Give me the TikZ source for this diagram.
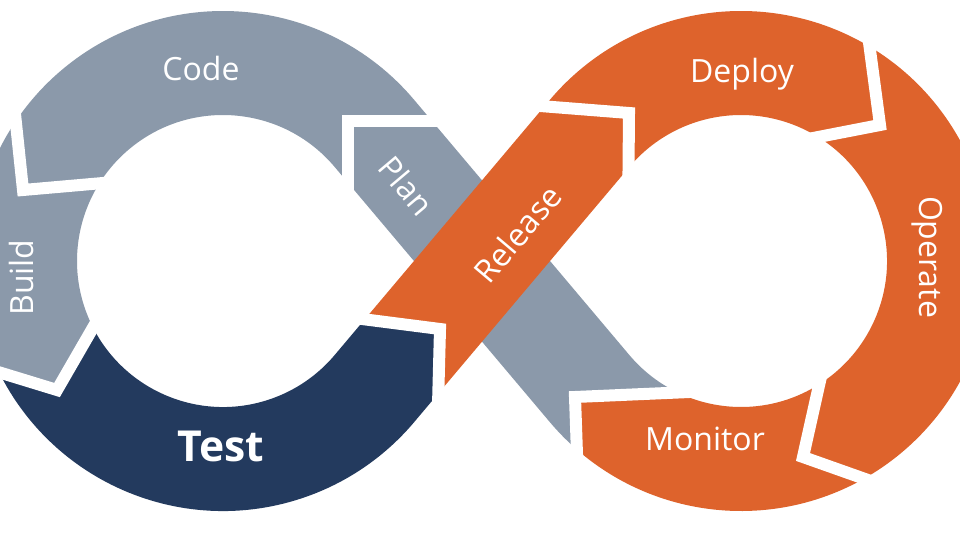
\documentclass[tikz,border=0pt]{standalone}
\usepackage{fontspec}
\setmainfont{Open Sans}
\usetikzlibrary{calc}

\definecolor{devgray}{RGB}{139,153,170}
\definecolor{devblue}{RGB}{35,58,94}
\definecolor{devorange}{RGB}{222,99,44}

\tikzset{
  band/.style={line width=78pt},
  gap/.style={draw=white, line width=9pt},
  stage/.style={text=white, inner sep=0pt, text depth=0pt, text height=17pt,
    font=\fontsize{24}{28}\selectfont},
}

% joint between two stages: name, x, y, arm left of the flow, arm right of the flow
\newcommand{\stagejoint}[5]{
  \coordinate (#1) at (#2,#3);
  \coordinate (#1-l) at ($(#1)+(#4:150)$);
  \coordinate (#1-r) at ($(#1)+(#5:150)$);
  \coordinate (#1-gl) at ($(#1)+(#4:120)$);
  \coordinate (#1-gr) at ($(#1)+(#5:120)$);
}

\begin{document}
\begin{tikzpicture}[x=0.75pt, y=0.75pt]
\path[use as bounding box, fill=white] (0,0) rectangle (960,540);

% loop centres and the ends of the straight parts
\coordinate (cl) at (223,279);
\coordinate (cr) at (741,279);
\coordinate (tlu) at ($(cl)+(40.14:198)$);
\coordinate (tld) at ($(cl)+(-40.14:198)$);
\coordinate (tru) at ($(cr)+(139.86:198)$);
\coordinate (trd) at ($(cr)+(-139.86:198)$);

\stagejoint{hplan}{348}{419}{-90}{0}
\stagejoint{hcode}{23}{350}{5}{96}
\stagejoint{hbuild}{57}{150}{60}{163}
\stagejoint{htest}{440}{211}{172.7}{268.5}
\stagejoint{hrelease}{629}{427}{175.5}{269.5}
\stagejoint{hdeploy}{880}{415}{97.6}{191}
\stagejoint{hoperate}{803}{83}{-19.5}{77.4}
\stagejoint{hmonitor}{575}{143}{272}{2.5}

% Plan (under Release)
\begin{scope}
  \clip (hmonitor-r) -- (hmonitor) -- (hmonitor-l) -- (hplan-l) -- ($(hplan)!12pt!(hplan-l)$) .. controls (hplan) .. ($(hplan)!12pt!(hplan-r)$) -- (hplan-r) -- cycle;
  \draw[band, devgray] ($(cr)+(-115:198)$) arc[start angle=-115, end angle=-139.86, radius=198] -- (tlu) arc[start angle=40.14, end angle=60, radius=198];
\end{scope}

% Code
\begin{scope}
  \clip (hplan-r) -- (hplan) -- (hplan-l) -- (cl) -- (hcode-l) -- ($(hcode)!8pt!(hcode-l)$) .. controls (hcode) .. ($(hcode)!8pt!(hcode-r)$) -- (hcode-r) -- ($(cl)+(125:420)$) -- ($(cl)+(55:420)$) -- cycle;
  \draw[band, devgray] ($(tlu)+(-49.86:80)$) -- (tlu) arc[start angle=40.14, end angle=175, radius=198];
\end{scope}

% Build
\begin{scope}
  \clip (hcode-r) -- (hcode) -- (hcode-l) -- (cl) -- (hbuild-l) -- ($(hbuild)!8pt!(hbuild-l)$) .. controls (hbuild) .. ($(hbuild)!8pt!(hbuild-r)$) -- (hbuild-r) -- ($(cl)+(190:420)$) -- cycle;
  \draw[band, devgray] ($(cl)+(140:198)$) arc[start angle=140, end angle=235, radius=198];
\end{scope}

% Test
\begin{scope}
  \clip (hbuild-r) -- (hbuild) -- (hbuild-l) -- (cl) -- (htest-l) -- ($(htest)!12pt!(htest-l)$) .. controls (htest) .. ($(htest)!12pt!(htest-r)$) -- (htest-r) -- ($(cl)+(300:420)$) -- ($(cl)+(240:420)$) -- cycle;
  \draw[band, devblue] ($(cl)+(200:198)$) arc[start angle=200, end angle=319.86, radius=198] -- ($(tld)+(49.86:130)$);
\end{scope}

% Release
\begin{scope}
  \clip (htest-r) -- (htest) -- (htest-l) -- (hrelease-l) -- ($(hrelease)!12pt!(hrelease-l)$) .. controls (hrelease) .. ($(hrelease)!12pt!(hrelease-r)$) -- (hrelease-r) -- cycle;
  \draw[band, devorange] (tld) -- (tru) arc[start angle=139.86, end angle=115, radius=198];
\end{scope}

% Deploy
\begin{scope}
  \clip (hrelease-r) -- (hrelease) -- (hrelease-l) -- ($(cr)+(110:420)$) -- ($(cr)+(60:420)$) -- (hdeploy-l) -- ($(hdeploy)!8pt!(hdeploy-l)$) .. controls (hdeploy) .. ($(hdeploy)!8pt!(hdeploy-r)$) -- (hdeploy-r) -- (cr) -- cycle;
  \draw[band, devorange] ($(tru)+(229.86:80)$) -- (tru) arc[start angle=139.86, end angle=30, radius=198];
\end{scope}

% Operate
\begin{scope}
  \clip (hdeploy-r) -- (hdeploy) -- (hdeploy-l) -- ($(cr)+(20:420)$) -- ($(cr)+(-40:420)$) -- (hoperate-l) -- ($(hoperate)!8pt!(hoperate-l)$) .. controls (hoperate) .. ($(hoperate)!8pt!(hoperate-r)$) -- (hoperate-r) -- (cr) -- cycle;
  \draw[band, devorange] ($(cr)+(65:198)$) arc[start angle=65, end angle=-85, radius=198];
\end{scope}

% Monitor
\begin{scope}
  \clip (hoperate-r) -- (hoperate) -- (hoperate-l) -- ($(cr)+(-80:420)$) -- ($(cr)+(-130:420)$) -- (hmonitor-l) -- ($(hmonitor)!12pt!(hmonitor-l)$) .. controls (hmonitor) .. ($(hmonitor)!12pt!(hmonitor-r)$) -- (hmonitor-r) -- (cr) -- cycle;
  \draw[band, devorange] ($(cr)+(-55:198)$) arc[start angle=-55, end angle=-139.86, radius=198] -- ($(trd)+(130.14:40)$);
\end{scope}

% white gaps between the stages
\foreach \j in {hplan,hcode,hbuild,htest,hrelease,hdeploy,hoperate,hmonitor}
  \draw[gap] (\j-gl) -- (\j) -- (\j-gr);

\node[stage] (code) at (201,470.5) {Code};
\node[stage, rotate=90] (build) at (22.5,262.5) {Build};
\node[stage, text height=23pt, font=\fontsize{32}{36}\selectfont\bfseries] (test) at (221,94) {Test};
\node[stage, rotate=-49.86] (plan) at (406,354) {Plan};
\node[stage, rotate=49.86] (release) at (518,306) {Release};
\node[stage] (deploy) at (742,469) {Deploy};
\node[stage, rotate=-90] (operate) at (931,283) {Operate};
\node[stage] (monitor) at (705,100.5) {Monitor};
\end{tikzpicture}
\end{document}
